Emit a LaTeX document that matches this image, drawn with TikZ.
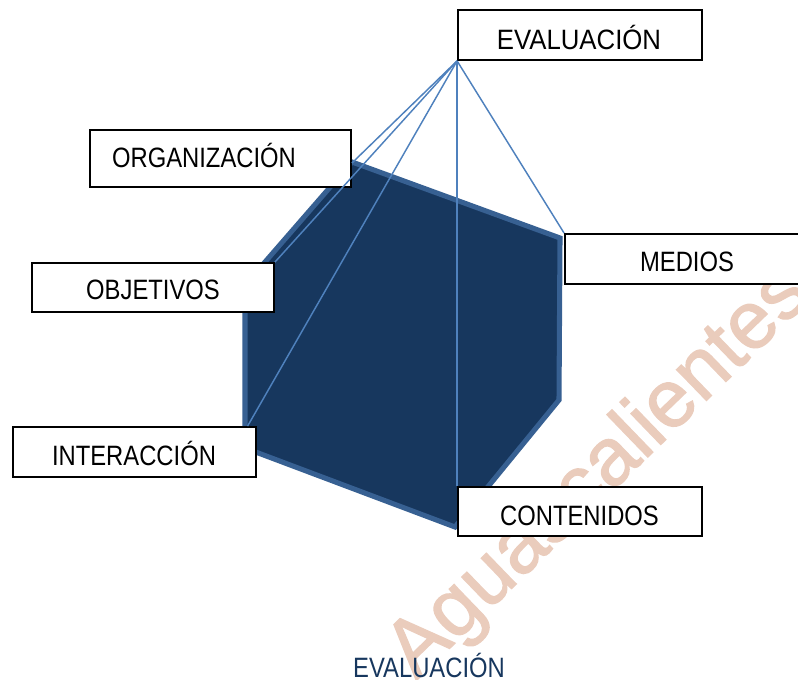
\documentclass[tikz,border=0pt]{standalone}
\usepackage{fontspec}
\setmainfont{Liberation Sans}[FakeStretch=0.85]
\newfontfamily\evalfont{Liberation Sans}[FakeStretch=0.92]
\newfontfamily\wmfont{Liberation Sans}[FakeBold=1.5]
\definecolor{navy}{RGB}{23,55,94}
\definecolor{rim}{RGB}{55,96,146}
\definecolor{connc}{RGB}{79,129,189}
\definecolor{wm}{RGB}{234,204,188}
\begin{document}
\begin{tikzpicture}[x=0.75pt,y=-0.75pt,
  box/.style={draw=black, line width=1.4pt, fill=white, inner sep=0pt},
  lbl/.style={anchor=base, inner sep=0pt, font=\fontsize{21}{25}\selectfont},
  conn/.style={draw=connc, line width=1.1pt}]
\useasboundingbox (0,0) rectangle (798,680);
\clip (0,0) rectangle (798,680);
% watermark
\node[rotate=44, text=wm, font=\wmfont\fontsize{61}{70}\selectfont, inner sep=0pt] (wmark) at (600,474) {Aguascalientes};
% polygon
\draw[fill=navy, draw=rim, line width=3.8pt] (352,162) -- (560,238) -- (559,400) -- (455,527) -- (245,448) -- (245,285) -- cycle;
% boxes
\node[box, minimum width=183pt, minimum height=37.5pt] (eval) at (580,35) {};
\node[box, minimum width=195.75pt, minimum height=42.75pt] (org) at (220.5,158.5) {};
\node[box, minimum width=181.5pt, minimum height=36.75pt] (obj) at (153,287.5) {};
\node[box, minimum width=183pt, minimum height=37.5pt] (med) at (687,259) {};
\node[box, minimum width=182.25pt, minimum height=37.5pt] (inter) at (134.5,452) {};
\node[box, minimum width=183pt, minimum height=36.75pt] (cont) at (580,511.5) {};
% connectors
\draw[conn] (eval.south west) -- ([yshift=-3.4pt]org.east);
\draw[conn] (eval.south west) -- (obj.north east);
\draw[conn] (eval.south west) -- ([xshift=-7pt]inter.north east);
\draw[conn] (eval.south west) -- (cont.north west);
\draw[conn] (eval.south west) -- (med.north west);
% labels
\node[lbl, font=\evalfont\fontsize{21}{25}\selectfont] (evaltxt) at (579,50) {EVALUACIÓN};
\node[lbl] (orgtxt) at (204,168) {ORGANIZACIÓN};
\node[lbl] (objtxt) at (153,300) {OBJETIVOS};
\node[lbl] (medtxt) at (687,272) {MEDIOS};
\node[lbl] (intertxt) at (134,465) {INTERACCIÓN};
\node[lbl] (conttxt) at (579.5,525) {CONTENIDOS};
\node[lbl, text=navy] (title) at (429,677) {EVALUACIÓN};
\end{tikzpicture}
\end{document}
